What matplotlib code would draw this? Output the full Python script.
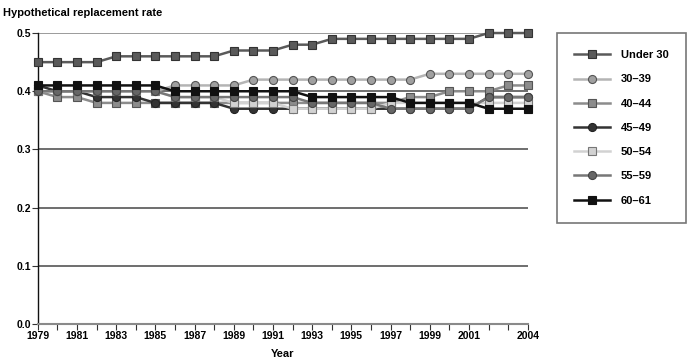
import matplotlib
matplotlib.use("Agg")
import matplotlib.pyplot as plt
import numpy as np

plt.rcParams['font.family'] = ['Liberation Sans', 'DejaVu Sans']
plt.rcParams['font.weight'] = 'bold'

# === Data ===
years = list(range(1979, 2005))
under_30 = [0.45, 0.45, 0.45, 0.45, 0.46, 0.46, 0.46, 0.46, 0.46, 0.46, 0.47, 0.47, 0.47,
            0.48, 0.48, 0.49, 0.49, 0.49, 0.49, 0.49, 0.49, 0.49, 0.49, 0.50, 0.50, 0.50]
age_30_39 = [0.40, 0.40, 0.40, 0.40, 0.40, 0.40, 0.40, 0.41, 0.41, 0.41, 0.41, 0.42, 0.42,
             0.42, 0.42, 0.42, 0.42, 0.42, 0.42, 0.42, 0.43, 0.43, 0.43, 0.43, 0.43, 0.43]
age_40_44 = [0.40, 0.39, 0.39, 0.38, 0.38, 0.38, 0.38, 0.38, 0.38, 0.38, 0.38, 0.38, 0.38,
             0.38, 0.38, 0.38, 0.38, 0.38, 0.38, 0.39, 0.39, 0.40, 0.40, 0.40, 0.41, 0.41]
age_45_49 = [0.41, 0.40, 0.40, 0.39, 0.39, 0.39, 0.38, 0.38, 0.38, 0.38, 0.37, 0.37, 0.37,
             0.37, 0.37, 0.37, 0.37, 0.37, 0.37, 0.37, 0.37, 0.37, 0.37, 0.39, 0.39, 0.39]
age_50_54 = [0.40, 0.40, 0.40, 0.40, 0.40, 0.40, 0.40, 0.39, 0.39, 0.39, 0.38, 0.38, 0.38,
             0.37, 0.37, 0.37, 0.37, 0.37, 0.38, 0.38, 0.38, 0.38, 0.38, 0.38, 0.38, 0.38]
age_55_59 = [0.40, 0.40, 0.40, 0.40, 0.40, 0.40, 0.40, 0.39, 0.39, 0.39, 0.39, 0.39, 0.39,
             0.39, 0.38, 0.38, 0.38, 0.38, 0.37, 0.37, 0.37, 0.37, 0.37, 0.39, 0.39, 0.39]
age_60_61 = [0.41, 0.41, 0.41, 0.41, 0.41, 0.41, 0.41, 0.40, 0.40, 0.40, 0.40, 0.40, 0.40,
             0.40, 0.39, 0.39, 0.39, 0.39, 0.39, 0.38, 0.38, 0.38, 0.38, 0.37, 0.37, 0.37]

labels = ["Under 30", "30\u201339", "40\u201344", "45\u201349", "50\u201354", "55\u201359", "60\u201361"]
series = [under_30, age_30_39, age_40_44, age_45_49, age_50_54, age_55_59, age_60_61]

# (line colour, marker, marker face, marker edge)
styles = [
    ("#5a5a5a", "s", "#5a5a5a", "#333333"),
    ("#b4b4b4", "o", "#a0a0a0", "#555555"),
    ("#8c8c8c", "s", "#8c8c8c", "#555555"),
    ("#333333", "o", "#333333", "#222222"),
    ("#d2d2d2", "s", "#d2d2d2", "#777777"),
    ("#777777", "o", "#666666", "#444444"),
    ("#111111", "s", "#111111", "#111111"),
]

fig = plt.figure(figsize=(6.99, 3.63), dpi=100)
ax = fig.add_axes([0.054, 0.107, 0.701, 0.802])

# gridlines
for yv in [0.1, 0.2, 0.3, 0.4, 0.5]:
    ax.axhline(yv, color="#555555" if yv < 0.5 else "#8a8a8a", lw=1.2, zorder=1)

handles = []
for vals, lab, (lc, mk, mf, me) in zip(series, labels, styles):
    h, = ax.plot(years, vals, color=lc, lw=1.8, marker=mk, markersize=5.8,
                 markerfacecolor=mf, markeredgecolor=me, markeredgewidth=0.8,
                 label=lab, zorder=3, clip_on=False)
    handles.append(h)

ax.set_xlim(1979, 2004)
ax.set_ylim(0, 0.5)
ax.set_yticks([0.0, 0.1, 0.2, 0.3, 0.4, 0.5])
ax.set_yticklabels(["0.0", "0.1", "0.2", "0.3", "0.4", "0.5"])
ax.set_xticks(years)
ax.set_xticklabels([str(y) if (y % 2 == 1 and y <= 2001) or y == 2004 else "" for y in years])
ax.tick_params(axis="both", labelsize=7.5, length=4, width=0.8, color="#333333", pad=1)

for s in ["top", "right"]:
    ax.spines[s].set_visible(False)
ax.spines["left"].set_color("#111111")
ax.spines["left"].set_linewidth(1.0)
ax.spines["bottom"].set_color("#8a8a8a")
ax.spines["bottom"].set_linewidth(1.5)

for t in ax.get_xticklabels() + ax.get_yticklabels():
    t.set_fontweight("bold")

fig.text(0.004, 0.965, "Hypothetical replacement rate", fontsize=8, fontweight="bold", ha="left", va="center")
fig.text(0.405, 0.025, "Year", fontsize=8, fontweight="bold", ha="center", va="center")

leg = fig.legend(handles=handles, loc="upper left", bbox_to_anchor=(0.797, 0.909),
                 frameon=True, fancybox=False, edgecolor="#555555", fontsize=8,
                 borderpad=1.55, labelspacing=1.28, handlelength=3.2, handletextpad=1.0,
                 borderaxespad=0)
leg.get_frame().set_linewidth(1.2)
for t in leg.get_texts():
    t.set_fontweight("bold")

plt.savefig("out.png", dpi=100)
